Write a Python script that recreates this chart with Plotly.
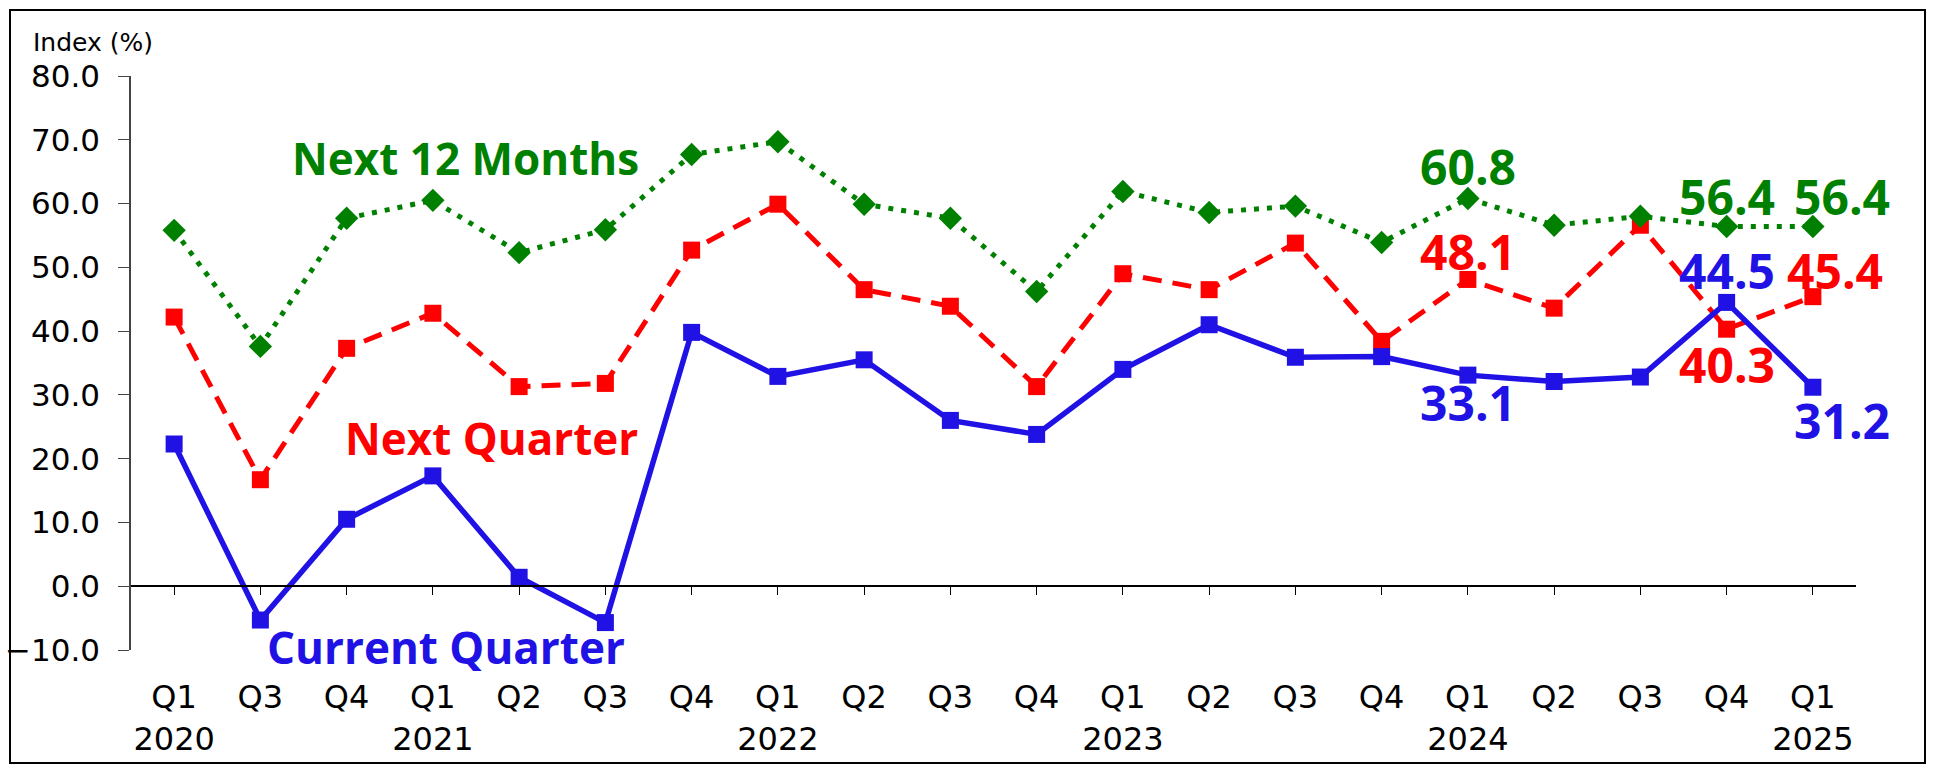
import plotly.graph_objects as go

# ---------------- data ----------------
periods = ["2020Q1", "2020Q3", "2020Q4", "2021Q1", "2021Q2", "2021Q3", "2021Q4",
           "2022Q1", "2022Q2", "2022Q3", "2022Q4", "2023Q1", "2023Q2", "2023Q3",
           "2023Q4", "2024Q1", "2024Q2", "2024Q3", "2024Q4", "2025Q1"]
tick_labels = ["Q1<br>2020", "Q3", "Q4", "Q1<br>2021", "Q2", "Q3", "Q4",
               "Q1<br>2022", "Q2", "Q3", "Q4", "Q1<br>2023", "Q2", "Q3",
               "Q4", "Q1<br>2024", "Q2", "Q3", "Q4", "Q1<br>2025"]
current_quarter = [22.3, -5.3, 10.5, 17.3, 1.4, -5.7, 39.8, 32.9, 35.5, 26.0,
                   23.8, 34.0, 41.0, 35.9, 36.0, 33.1, 32.1, 32.8, 44.5, 31.2]
next_quarter = [42.2, 16.7, 37.3, 42.8, 31.3, 31.8, 52.7, 59.9, 46.5, 43.9,
                31.3, 49.0, 46.5, 53.8, 38.4, 48.1, 43.6, 56.6, 40.3, 45.4]
next_12_months = [55.8, 37.6, 57.7, 60.5, 52.3, 55.9, 67.7, 69.7, 59.9, 57.7,
                  46.2, 61.9, 58.6, 59.6, 53.9, 60.8, 56.6, 58.0, 56.4, 56.4]
y_ticks = [-10, 0, 10, 20, 30, 40, 50, 60, 70, 80]

GREEN = "#008000"
RED = "#FF0000"
BLUE = "#2012E4"
# labelled points: (series, period index, xshift, yshift, colour)
value_labels = [
    (next_12_months, 15, 0, 32, GREEN),
    (next_12_months, 18, 0, 30, GREEN),
    (next_12_months, 19, 29, 30, GREEN),
    (next_quarter, 15, 0, 28, RED),
    (next_quarter, 18, 0, -35, RED),
    (next_quarter, 19, 22, 26, RED),
    (current_quarter, 15, 0, -27, BLUE),
    (current_quarter, 18, 0, 32, BLUE),
    (current_quarter, 19, 29, -33, BLUE),
]

# ---------------- layout geometry ----------------
W, H = 1936, 774
ML, MR, MT, MB = 131, 80, 76, 124
PW, PH = W - ML - MR, H - MT - MB
YMIN, YMAX = -10, 80

fig = go.Figure()
fig.add_trace(go.Scatter(
    x=periods, y=next_quarter, mode="lines+markers", name="Next Quarter",
    line=dict(color=RED, width=5, dash="19px,11px"),
    marker=dict(symbol="square", size=17, color=RED)))
fig.add_trace(go.Scatter(
    x=periods, y=current_quarter, mode="lines+markers", name="Current Quarter",
    line=dict(color=BLUE, width=5.5),
    marker=dict(symbol="square", size=17, color=BLUE)))
fig.add_trace(go.Scatter(
    x=periods, y=next_12_months, mode="lines+markers", name="Next 12 Months",
    line=dict(color=GREEN, width=5, dash="5px,8px"),
    marker=dict(symbol="diamond", size=18, color=GREEN)))

bold = dict(family="Open Sans", weight="bold")
annotations = []
for series, i, dx, dy, col in value_labels:
    annotations.append(dict(
        x=periods[i], y=series[i], xref="x", yref="y", text=f"{series[i]:.1f}",
        showarrow=False, xshift=dx, yshift=dy, xanchor="center", yanchor="middle",
        font=dict(size=48, color=col, **bold)))

# series name labels
annotations += [
    dict(x=3.38, y=67.1, xref="x", yref="y", text="Next 12 Months", showarrow=False,
         xanchor="center", yanchor="middle", font=dict(size=44, color=GREEN, **bold)),
    dict(x=3.68, y=23.2, xref="x", yref="y", text="Next Quarter", showarrow=False,
         xanchor="center", yanchor="middle", font=dict(size=44, color=RED, **bold)),
    dict(x=3.15, y=-9.5, xref="x", yref="y", text="Current Quarter", showarrow=False,
         xanchor="center", yanchor="middle", font=dict(size=44, color=BLUE, **bold)),
    dict(x=(93 - ML) / PW, y=(H - MB - 43) / PH, xref="paper", yref="paper",
         text="Index (%)", showarrow=False, xanchor="center", yanchor="middle",
         font=dict(family="DejaVu Sans", size=25, color="black")),
]

fig.update_layout(
    template="none",
    width=W, height=H,
    margin=dict(l=ML, r=MR, t=MT, b=MB, pad=0),
    paper_bgcolor="white", plot_bgcolor="white",
    showlegend=False,
    annotations=annotations,
    shapes=[dict(type="rect", xref="paper", yref="paper",
                 x0=(10 - ML) / PW, x1=(1925 - ML) / PW,
                 y0=(H - MB - 763) / PH, y1=(H - MB - 10) / PH,
                 line=dict(color="black", width=2), fillcolor="rgba(0,0,0,0)",
                 layer="below")],
    xaxis=dict(
        type="category", range=[-0.5, len(periods) - 0.5],
        tickvals=periods, ticktext=tick_labels,
        anchor="free", position=(0 - YMIN) / (YMAX - YMIN),
        showline=True, linecolor="black", linewidth=1.5,
        ticks="outside", ticklen=8, tickwidth=1.2, tickcolor="black",
        ticklabelstandoff=75,
        tickfont=dict(family="DejaVu Sans", size=32, color="black"),
        showgrid=False, zeroline=False, automargin=False, fixedrange=True),
    yaxis=dict(
        range=[YMIN, YMAX], tickvals=y_ticks, tickformat=".1f",
        showline=True, linecolor="#444", linewidth=1.5,
        ticks="outside", ticklen=11, tickwidth=1.2, tickcolor="#444",
        ticklabelstandoff=12,
        tickfont=dict(family="DejaVu Sans", size=31, color="black"),
        showgrid=False, zeroline=False, automargin=False, fixedrange=True),
)

fig.write_html("out.html")
